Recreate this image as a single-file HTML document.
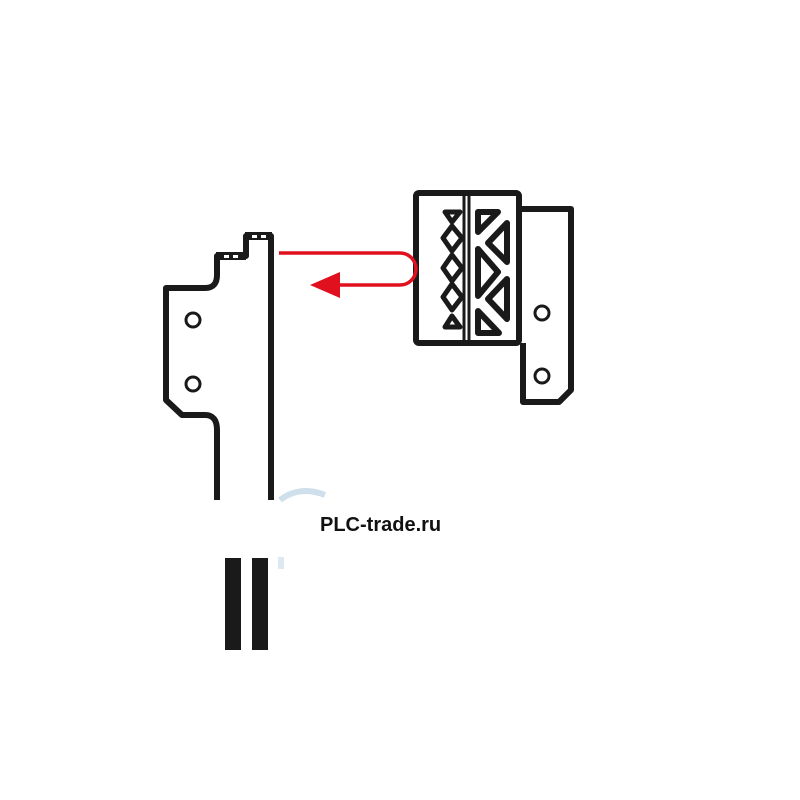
<!DOCTYPE html>
<html><head><meta charset="utf-8"><style>
html,body{margin:0;padding:0;background:#fff;width:800px;height:800px;overflow:hidden}
svg{position:absolute;left:0;top:0}
.t{position:absolute;left:320px;top:514px;font-family:"Liberation Sans",sans-serif;font-weight:bold;font-size:20px;color:#111}
</style></head><body>
<svg width="800" height="800" viewBox="0 0 800 800">
<g fill="none" stroke="#1a1a1a" stroke-width="6" stroke-linejoin="round">
 <path d="M217 500 V430 Q217 415 205 415 H182 L166 400 V288 H205 Q217 288 217 275 V256 H246 V236 H271 V500"/>
 <circle cx="193" cy="320" r="7" stroke-width="3"/>
 <circle cx="193" cy="384" r="7" stroke-width="3"/>
 <rect x="416" y="193" width="103" height="150" rx="3"/>
 <line x1="464" y1="195" x2="464" y2="341" stroke-width="3"/>
 <line x1="469" y1="195" x2="469" y2="341" stroke-width="3"/>
 <path d="M519 209 H571 V390 L559 402 H523 V343"/>
 <circle cx="542" cy="313" r="7" stroke-width="3"/>
 <circle cx="542" cy="376" r="7" stroke-width="3"/>
 <path d="M445 212 H460 L452 222 Z" stroke-width="5"/>
 <path d="M452 226 L462 238 L452 251 L443 238 Z" stroke-width="5"/>
 <path d="M452 255 L462 268 L452 281 L443 268 Z" stroke-width="5"/>
 <path d="M452 284 L462 297 L452 310 L443 297 Z" stroke-width="5"/>
 <path d="M445 327 H460 L452 316 Z" stroke-width="5"/>
 <path d="M478 212 H498 L478 232 Z" stroke-width="6"/>
 <path d="M488 243 L507 223 V262 Z" stroke-width="6"/>
 <path d="M478 249 V296 L498 272 Z" stroke-width="6"/>
 <path d="M488 299 L507 279 V319 Z" stroke-width="6"/>
 <path d="M478 311 V333 H499 Z" stroke-width="6"/>
</g>
<rect x="245" y="232" width="27" height="8" fill="#1a1a1a"/>
<rect x="216" y="252" width="30" height="8" fill="#1a1a1a"/>
<rect x="252" y="235" width="5" height="3" fill="#fff"/>
<rect x="261" y="235" width="5" height="3" fill="#fff"/>
<rect x="224" y="255" width="5" height="3" fill="#fff"/>
<rect x="233" y="255" width="5" height="3" fill="#fff"/>
<path d="M280 500 Q300 485 325 495" stroke="#cfe0ec" stroke-width="6" fill="none"/>
<rect x="278" y="557" width="6" height="12" fill="#dde8f0"/>
<rect x="225" y="558" width="16" height="92" fill="#1a1a1a"/>
<rect x="252" y="558" width="16" height="92" fill="#1a1a1a"/>
<path d="M279 253 H400 A16 16 0 0 1 400 285 H335" fill="none" stroke="#e0101e" stroke-width="3.5"/>
<path d="M310 285 L340 272 V298 Z" fill="#e0101e"/>
</svg>
<div class="t">PLC-trade.ru</div>
</body></html>
